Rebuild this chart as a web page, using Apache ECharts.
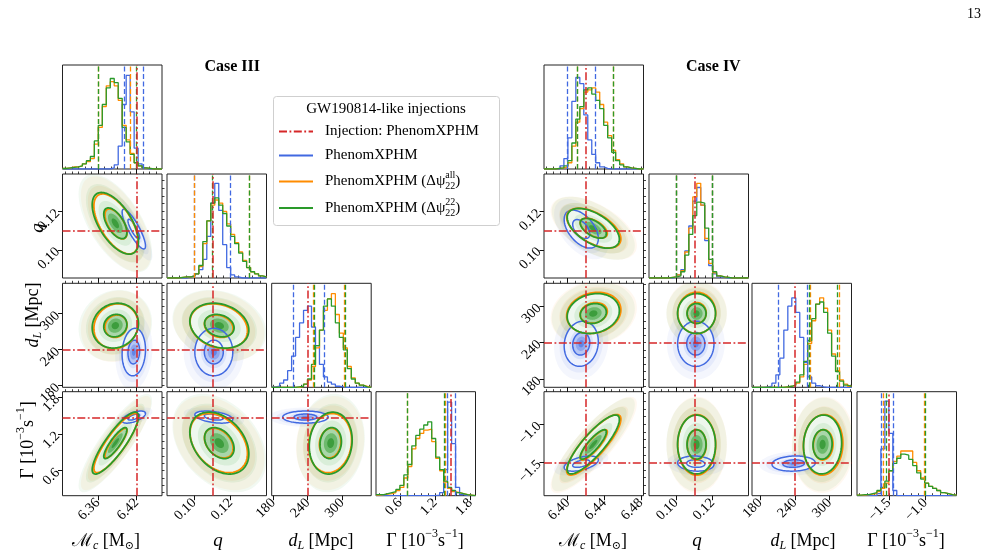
<!DOCTYPE html>
<html>
<head>
<meta charset="utf-8">
<script src="https://cdn.jsdelivr.net/npm/echarts@6/dist/echarts.min.js"></script>
<style>
html, body { margin: 0; padding: 0; background: #fff; }
#chart { width: 996px; height: 558px; }
</style>
</head>
<body>
<div id="chart"></div>
<script>
// parameter order everywhere: [Mc, q, dL, Gamma]
const rangeIII = [[6.3055, 6.459], [0.0853, 0.1395], [177.2, 350.6], [0.19, 1.89]]
const rangeIV = [[6.374, 6.483], [0.0853, 0.1395], [166, 338], [-1.935, -0.575]]
const majorTicksIII = [[6.36, 6.42], [0.10, 0.12], [180, 240, 300], [0.6, 1.2, 1.8]]
const majorTicksIV = [[6.40, 6.44, 6.48], [0.10, 0.12], [180, 240, 300], [-1.5, -1.0]]
const minorStepIII = [0.01, 0.004, 12, 0.12]
const minorStepIV = [0.008, 0.004, 12, 0.1]
const labelDecimals = [2, 2, 0, 1]
const injectionIII = [6.42, 0.1077, 240, 1.465]
const injectionIV = [6.421, 0.1077, 240, -1.5]

// 1D histograms, 25 bins over the axis range, height as fraction of panel
const histIIIMcBlue = [0, 0, 0, 0, 0, 0, 0, 0, 0, 0, 0, 0, 0.01, 0.04, 0.22, 0.62, 0.90, 0.55, 0.20, 0.05, 0.01, 0, 0, 0, 0]
const histIIIMcOrange = [0.005, 0.01, 0.02, 0.02, 0.03, 0.05, 0.07, 0.10, 0.24, 0.40, 0.60, 0.80, 0.84, 0.80, 0.66, 0.42, 0.28, 0.15, 0.06, 0.03, 0.01, 0.005, 0, 0, 0]
const histIIIMcGreen = [0.005, 0.01, 0.015, 0.02, 0.03, 0.05, 0.08, 0.12, 0.27, 0.42, 0.62, 0.78, 0.87, 0.83, 0.68, 0.40, 0.26, 0.14, 0.06, 0.03, 0.01, 0.005, 0, 0, 0]
const histIIIqBlue = [0, 0, 0, 0, 0, 0.01, 0.02, 0.04, 0.08, 0.18, 0.40, 0.72, 0.91, 0.65, 0.32, 0.10, 0.03, 0.01, 0, 0, 0, 0, 0, 0, 0]
const histIIIqOrange = [0, 0, 0, 0.005, 0.01, 0.01, 0.02, 0.04, 0.11, 0.33, 0.55, 0.70, 0.75, 0.72, 0.64, 0.52, 0.42, 0.34, 0.25, 0.17, 0.10, 0.06, 0.04, 0.02, 0.01]
const histIIIqGreen = [0, 0, 0, 0.005, 0.01, 0.01, 0.02, 0.04, 0.12, 0.35, 0.55, 0.72, 0.77, 0.70, 0.62, 0.50, 0.40, 0.33, 0.24, 0.16, 0.10, 0.06, 0.04, 0.02, 0.01]
const histIIIdLBlue = [0.005, 0.01, 0.04, 0.07, 0.16, 0.30, 0.48, 0.62, 0.74, 0.78, 0.58, 0.40, 0.22, 0.10, 0.05, 0.03, 0.01, 0.005, 0, 0, 0, 0, 0, 0, 0]
const histIIIdLOrange = [0, 0, 0, 0, 0, 0, 0, 0.01, 0.03, 0.07, 0.20, 0.38, 0.55, 0.74, 0.85, 0.90, 0.70, 0.52, 0.38, 0.20, 0.09, 0.04, 0.02, 0.01, 0]
const histIIIdLGreen = [0, 0, 0, 0, 0, 0, 0.005, 0.01, 0.03, 0.08, 0.22, 0.40, 0.55, 0.78, 0.85, 0.78, 0.62, 0.48, 0.36, 0.18, 0.08, 0.04, 0.02, 0.005, 0]
const histIIIGamBlue = [0, 0, 0, 0, 0, 0, 0, 0, 0, 0, 0, 0, 0, 0, 0, 0.005, 0.03, 0.25, 0.90, 0.50, 0.08, 0.01, 0, 0, 0]
const histIIIGamOrange = [0.005, 0.01, 0.015, 0.02, 0.03, 0.05, 0.08, 0.17, 0.28, 0.45, 0.55, 0.60, 0.63, 0.64, 0.52, 0.36, 0.24, 0.13, 0.07, 0.04, 0.03, 0.02, 0.01, 0.005, 0]
const histIIIGamGreen = [0.01, 0.01, 0.02, 0.03, 0.04, 0.06, 0.10, 0.20, 0.30, 0.48, 0.58, 0.64, 0.68, 0.71, 0.55, 0.37, 0.25, 0.14, 0.08, 0.05, 0.03, 0.02, 0.01, 0.005, 0]

const histIVMcBlue = [0, 0, 0, 0, 0.03, 0.10, 0.30, 0.65, 0.88, 0.82, 0.52, 0.28, 0.14, 0.06, 0.02, 0.005, 0, 0, 0, 0, 0, 0, 0, 0, 0]
const histIVMcOrange = [0, 0, 0, 0.005, 0.01, 0.02, 0.06, 0.22, 0.45, 0.58, 0.74, 0.76, 0.78, 0.74, 0.62, 0.45, 0.32, 0.18, 0.09, 0.05, 0.02, 0.01, 0.005, 0, 0]
const histIVMcGreen = [0, 0, 0, 0.005, 0.01, 0.03, 0.08, 0.25, 0.48, 0.60, 0.76, 0.78, 0.72, 0.66, 0.58, 0.42, 0.30, 0.16, 0.08, 0.04, 0.02, 0.01, 0.005, 0, 0]
const histIVqBlue = [0, 0, 0, 0, 0, 0, 0.01, 0.03, 0.08, 0.26, 0.50, 0.74, 0.87, 0.70, 0.36, 0.12, 0.04, 0.01, 0.005, 0, 0, 0, 0, 0, 0]
const histIVqOrange = [0, 0, 0, 0, 0, 0.005, 0.01, 0.03, 0.07, 0.25, 0.48, 0.78, 0.91, 0.70, 0.38, 0.14, 0.05, 0.02, 0.01, 0.005, 0, 0, 0, 0, 0]
const histIVqGreen = [0, 0, 0, 0, 0, 0.005, 0.01, 0.02, 0.06, 0.22, 0.42, 0.60, 0.73, 0.72, 0.48, 0.18, 0.06, 0.02, 0.01, 0.005, 0, 0, 0, 0, 0]
const histIVdLBlue = [0, 0, 0, 0.005, 0.01, 0.04, 0.12, 0.28, 0.55, 0.78, 0.86, 0.72, 0.48, 0.24, 0.10, 0.04, 0.015, 0.005, 0, 0, 0, 0, 0, 0, 0]
const histIVdLOrange = [0, 0, 0, 0, 0, 0, 0, 0, 0.005, 0.01, 0.02, 0.04, 0.10, 0.22, 0.42, 0.64, 0.80, 0.86, 0.76, 0.55, 0.32, 0.16, 0.07, 0.03, 0.01]
const histIVdLGreen = [0, 0, 0, 0, 0, 0, 0, 0, 0.005, 0.01, 0.02, 0.05, 0.12, 0.25, 0.45, 0.66, 0.80, 0.82, 0.72, 0.52, 0.30, 0.15, 0.06, 0.02, 0.01]
const histIVGamBlue = [0, 0, 0, 0, 0, 0.02, 0.45, 0.91, 0.60, 0.05, 0, 0, 0, 0, 0, 0, 0, 0, 0, 0, 0, 0, 0, 0, 0]
const histIVGamOrange = [0.005, 0.005, 0.01, 0.015, 0.02, 0.04, 0.07, 0.12, 0.24, 0.33, 0.38, 0.43, 0.43, 0.43, 0.32, 0.24, 0.17, 0.12, 0.09, 0.07, 0.05, 0.03, 0.02, 0.01, 0.005]
const histIVGamGreen = [0.005, 0.01, 0.01, 0.02, 0.03, 0.05, 0.08, 0.14, 0.24, 0.31, 0.36, 0.40, 0.39, 0.35, 0.29, 0.22, 0.16, 0.12, 0.09, 0.07, 0.05, 0.03, 0.02, 0.01, 0.005]

// 90% credible bounds (dashed lines)
const boundsIIIBlue = [[6.402, 6.430], [0.1035, 0.1177], [213.9, 268], [1.40, 1.55]]
const boundsIIIOrange = [[6.362, 6.412], [0.1046, 0.1277], [249.8, 304], [0.73, 1.37]]
const boundsIIIGreen = [[6.360, 6.415], [0.1053, 0.1291], [251.6, 305.2], [0.72, 1.36]]
const boundsIVBlue = [[6.4016, 6.4277], [0.1040, 0.1175], [212, 261], [-1.599, -1.441]]
const boundsIVOrange = [[6.4078, 6.4506], [0.1050, 0.1185], [267, 316], [-1.568, -1.01]]
const boundsIVGreen = [[6.407, 6.4495], [0.1046, 0.1183], [265, 313], [-1.545, -1.001]]

// 2D posteriors: centre, spread, correlations [Mc-q, Mc-dL, Mc-G, q-dL, q-G, dL-G]
const centerIIIBlue = [6.4155, 0.1108, 236, 1.475]
const spreadIIIBlue = [0.0082, 0.0047, 18, 0.045]
const corrIIIBlue = [-0.85, 0.1, 0.6, 0.0, -0.4, 0.0]
const centerIIIOrange = [6.388, 0.1135, 279, 1.05]
const spreadIIIOrange = [0.0155, 0.0071, 17, 0.22]
const corrIIIOrange = [-0.6, 0.1, 0.86, -0.2, -0.35, 0.1]
const centerIIIGreen = [6.387, 0.1138, 280, 1.05]
const spreadIIIGreen = [0.0162, 0.0073, 17, 0.23]
const corrIIIGreen = [-0.6, 0.1, 0.86, -0.2, -0.35, 0.1]
const centerIVBlue = [6.4148, 0.1108, 238, -1.515]
const spreadIVBlue = [0.0085, 0.0045, 17, 0.045]
const corrIVBlue = [-0.5, 0.1, 0.5, 0.0, -0.1, 0.1]
const centerIVOrange = [6.4285, 0.1113, 289, -1.27]
const spreadIVOrange = [0.0135, 0.0047, 15.5, 0.18]
const corrIVOrange = [-0.55, 0.15, 0.85, 0.0, 0.0, 0.05]
const centerIVGreen = [6.428, 0.1112, 288, -1.265]
const spreadIVGreen = [0.013, 0.0047, 15, 0.175]
const corrIVGreen = [-0.55, 0.15, 0.85, 0.0, 0.0, 0.05]

const legendLabels = ['Injection: PhenomXPHM', 'PhenomXPHM', 'PhenomXPHM (Δψ', 'PhenomXPHM (Δψ']

// ---------------------------------------------------------------
const serif = '"Liberation Serif", "DejaVu Serif", serif'
const colors = { blue: '#4169e1', orange: '#ff8c00', green: '#2a9a2a', red: '#d62728' }
const colXIII = [62.5, 167, 271.7, 376]
const colXIV = [544, 649, 752, 857]
const rowY = [65, 174, 283.3, 391.7]
const panelW = 99.5
const panelH = 104
const pairIndex = { '01': 0, '02': 1, '03': 2, '12': 3, '13': 4, '23': 5 }
const kInner = 1.1
const kOuter = 2.2

const cases = [
  {
    colX: colXIII, range: rangeIII, major: majorTicksIII, minor: minorStepIII, inj: injectionIII,
    hist: {
      blue: [histIIIMcBlue, histIIIqBlue, histIIIdLBlue, histIIIGamBlue],
      orange: [histIIIMcOrange, histIIIqOrange, histIIIdLOrange, histIIIGamOrange],
      green: [histIIIMcGreen, histIIIqGreen, histIIIdLGreen, histIIIGamGreen]
    },
    bounds: { blue: boundsIIIBlue, orange: boundsIIIOrange, green: boundsIIIGreen },
    center: { blue: centerIIIBlue, orange: centerIIIOrange, green: centerIIIGreen },
    spread: { blue: spreadIIIBlue, orange: spreadIIIOrange, green: spreadIIIGreen },
    corr: { blue: corrIIIBlue, orange: corrIIIOrange, green: corrIIIGreen }
  },
  {
    colX: colXIV, range: rangeIV, major: majorTicksIV, minor: minorStepIV, inj: injectionIV,
    hist: {
      blue: [histIVMcBlue, histIVqBlue, histIVdLBlue, histIVGamBlue],
      orange: [histIVMcOrange, histIVqOrange, histIVdLOrange, histIVGamOrange],
      green: [histIVMcGreen, histIVqGreen, histIVdLGreen, histIVGamGreen]
    },
    bounds: { blue: boundsIVBlue, orange: boundsIVOrange, green: boundsIVGreen },
    center: { blue: centerIVBlue, orange: centerIVOrange, green: centerIVGreen },
    spread: { blue: spreadIVBlue, orange: spreadIVOrange, green: spreadIVGreen },
    corr: { blue: corrIVBlue, orange: corrIVOrange, green: corrIVGreen }
  }
]

const option = { animation: false, grid: [], xAxis: [], yAxis: [], series: [], graphic: [] }

function minorValues(r, step) {
  const out = []
  for (let v = Math.ceil(r[0] / step - 1e-9) * step; v <= r[1] + 1e-9; v += step) out.push(+v.toFixed(6))
  return out
}

function fmt(p, v) {
  return v.toFixed(labelDecimals[p]).replace('-', '\u2212')
}

function rgba(hex, a) {
  const n = parseInt(hex.slice(1), 16)
  return `rgba(${n >> 16},${(n >> 8) & 255},${n & 255},${a})`
}

function axisPair(list, gi, r, major, minor, p, showTicks, showLabels) {
  const base = {
    gridIndex: gi, type: 'value', min: r[0], max: r[1],
    axisLine: { show: false }, splitLine: { show: false }
  }
  list.push(Object.assign({}, base, {
    axisTick: { show: showTicks, customValues: major, length: 4.5, lineStyle: { color: '#111', width: 1 } },
    axisLabel: {
      show: showLabels, customValues: major, rotate: 45, margin: 5,
      formatter: v => fmt(p, v), fontFamily: serif, fontSize: 14, color: '#000'
    }
  }))
  list.push(Object.assign({}, base, {
    axisTick: { show: showTicks, customValues: minorValues(r, minor), length: 2.5, lineStyle: { color: '#111', width: 0.8 } },
    axisLabel: { show: false }
  }))
}

function ellipseSeries(gi, z, c, s, rho, layers) {
  const root = Math.sqrt(1 - rho * rho)
  return {
    type: 'custom', xAxisIndex: 2 * gi, yAxisIndex: 2 * gi, z, silent: true, clip: true,
    data: layers.map((l, i) => [c[0], c[1], i]),
    renderItem(params, api) {
      const l = layers[params.dataIndex]
      const pts = []
      for (let i = 0; i < 96; i++) {
        const t = i / 96 * 2 * Math.PI
        pts.push(api.coord([
          c[0] + l.k * s[0] * Math.cos(t),
          c[1] + l.k * s[1] * (rho * Math.cos(t) + root * Math.sin(t))
        ]))
      }
      const cs = params.coordSys
      return {
        type: 'polygon',
        shape: { points: pts },
        clipPath: { type: 'rect', shape: { x: cs.x, y: cs.y, width: cs.width, height: cs.height } },
        style: { fill: l.fill || 'none', stroke: l.stroke || 'none', lineWidth: l.width || 0 }
      }
    }
  }
}

function injectionLines(gi, lines) {
  return {
    type: 'line', xAxisIndex: 2 * gi, yAxisIndex: 2 * gi, data: [], z: 6, silent: true,
    markLine: {
      silent: true, symbol: ['none', 'none'], label: { show: false }, animation: false,
      lineStyle: { color: colors.red, width: 1.5, type: [8, 2.5, 1.8, 2.5] },
      emphasis: { disabled: true },
      data: lines
    }
  }
}

const blueFill = [
  { k: kOuter, fill: '#eef2fd' }, { k: 1.5, fill: '#d9e2fa' }, { k: kInner, fill: '#b6c6f4' },
  { k: 0.7, fill: '#8ea6ee' }, { k: 0.35, fill: '#6284e6' }
]
const greenFill = [
  { k: kOuter, fill: '#eef7ee' }, { k: 1.6, fill: '#d9eed9' }, { k: kInner, fill: '#a9d6a9' },
  { k: 0.7, fill: '#6dba6d' }, { k: 0.35, fill: '#3d9d3d' }
]

cases.forEach(cs => {
  for (let row = 0; row < 4; row++) {
    for (let col = 0; col <= row; col++) {
      const gi = option.grid.length
      option.grid.push({
        left: cs.colX[col], top: rowY[row], width: panelW, height: panelH,
        show: true, borderColor: '#222', borderWidth: 1, backgroundColor: '#fff'
      })
      axisPair(option.xAxis, gi, cs.range[col], cs.major[col], cs.minor[col], col, true, row === 3)
      if (row === col) {
        option.yAxis.push({ gridIndex: gi, type: 'value', min: 0, max: 1, show: false })
        option.yAxis.push({ gridIndex: gi, type: 'value', min: 0, max: 1, show: false })
        const r = cs.range[col]
        ;['blue', 'orange', 'green'].forEach(name => {
          const h = cs.hist[name][col]
          const w = (r[1] - r[0]) / h.length
          const data = h.map((v, i) => [r[0] + i * w, v])
          data.push([r[1], h[h.length - 1]])
          option.series.push({
            type: 'line', xAxisIndex: 2 * gi, yAxisIndex: 2 * gi, step: 'end', data,
            symbol: 'none', silent: true, z: 3,
            lineStyle: { color: colors[name], width: 1.3 },
            markLine: {
              silent: true, symbol: ['none', 'none'], label: { show: false }, animation: false,
              lineStyle: { color: colors[name], width: 1.3, type: [5, 2.5] },
              data: cs.bounds[name][col].map(v => ({ xAxis: v }))
            }
          })
        })
        option.series.push(injectionLines(gi, [{ xAxis: cs.inj[col] }]))
      } else {
        axisPair(option.yAxis, gi, cs.range[row], cs.major[row], cs.minor[row], row, col === 0, col === 0)
        const pi = pairIndex['' + col + row]
        const get = name => ({
          c: [cs.center[name][col], cs.center[name][row]],
          s: [cs.spread[name][col], cs.spread[name][row]],
          rho: cs.corr[name][pi]
        })
        ;['blue', 'orange', 'green'].forEach(name => {
          const g = get(name)
          option.series.push(ellipseSeries(gi, 1, g.c, g.s, g.rho, [
            { k: 3.5, fill: rgba(colors[name], 0.06) },
            { k: 2.8, fill: rgba(colors[name], 0.08) }
          ]))
        })
        const gb = get('blue')
        option.series.push(ellipseSeries(gi, 2, gb.c, gb.s, gb.rho, blueFill))
        const gg = get('green')
        option.series.push(ellipseSeries(gi, 2, gg.c, gg.s, gg.rho, greenFill))
        ;['blue', 'orange', 'green'].forEach(name => {
          const g = get(name)
          const lw = name === 'blue' ? 1.5 : 1.8
          option.series.push(ellipseSeries(gi, 4, g.c, g.s, g.rho, [
            { k: kOuter, stroke: colors[name], width: lw },
            { k: kInner, stroke: colors[name], width: lw }
          ]))
        })
        option.series.push(injectionLines(gi, [{ xAxis: cs.inj[col] }, { yAxis: cs.inj[row] }]))
      }
    }
  }
})

// ---------------- text: titles, axis names, legend ----------------
const measureCtx = document.createElement('canvas').getContext('2d')
function textWidth(t, size, italic) {
  measureCtx.font = (italic ? 'italic ' : '') + size + 'px ' + serif
  return measureCtx.measureText(t).width
}

function mathLabel(x, y, parts, opts) {
  opts = opts || {}
  let total = 0
  parts.forEach(p => { if (!p.noAdv) total += textWidth(p.t, p.size, p.italic) })
  let cx = opts.left ? 0 : -total / 2
  const children = parts.map(p => {
    const el = {
      type: 'text', x: cx, y: p.dy || 0, z: opts.z || 0,
      style: {
        text: p.t, fill: '#000', align: 'left', verticalAlign: 'middle',
        font: (p.italic ? 'italic ' : '') + (p.bold ? 'bold ' : '') + p.size + 'px ' + serif
      }
    }
    if (!p.noAdv) cx += textWidth(p.t, p.size, p.italic)
    return el
  })
  return { type: 'group', x, y, rotation: opts.rotation || 0, children, silent: true, z: opts.z || 0 }
}

const nameMc = [{ t: 'ℳ', size: 18 }, { t: 'c', size: 12, italic: true, dy: 5 }, { t: ' [M', size: 18 }, { t: '⊙', size: 11, dy: 5 }, { t: ']', size: 18 }]
const nameQ = [{ t: 'q', size: 19, italic: true }]
const nameDL = [{ t: 'd', size: 18, italic: true }, { t: 'L', size: 12, italic: true, dy: 5 }, { t: ' [Mpc]', size: 18 }]
const nameG = [{ t: 'Γ [10', size: 18 }, { t: '−3', size: 12, dy: -7 }, { t: 's', size: 18 }, { t: '−1', size: 12, dy: -7 }, { t: ']', size: 18 }]
const names = [nameMc, nameQ, nameDL, nameG]

;[[106, 218, 321, 425], [593, 697, 803, 906]].forEach(xs => {
  xs.forEach((x, i) => option.graphic.push(mathLabel(x, 541, names[i])))
})
;[[38, 228], [33, 315], [28, 440]].forEach((p, i) => {
  option.graphic.push(mathLabel(p[0], p[1], names[i + 1], { rotation: Math.PI / 2 }))
})

option.graphic.push(mathLabel(230, 67, [{ t: 'Case III', size: 16, bold: true }]))
option.graphic.push(mathLabel(712, 67, [{ t: 'Case IV', size: 16, bold: true }]))
option.graphic.push(mathLabel(974, 14, [{ t: '13', size: 14 }]))

// legend box
option.graphic.push({
  type: 'rect', shape: { x: 273.5, y: 96.5, width: 226, height: 129, r: 3 },
  style: { fill: '#fff', stroke: '#cfcfcf', lineWidth: 1 }, z: 10, silent: true
})
option.graphic.push(mathLabel(386, 109, [{ t: 'GW190814-like injections', size: 15 }], { z: 11 }))
const legendY = [131.5, 155.5, 181.5, 208]
const legendColors = [colors.red, colors.blue, colors.orange, colors.green]
legendY.forEach((y, i) => {
  option.graphic.push({
    type: 'line', shape: { x1: 279, y1: y, x2: 313, y2: y }, z: 11, silent: true,
    style: { stroke: legendColors[i], lineWidth: 1.8, lineDash: i === 0 ? [8, 2.5, 1.8, 2.5] : null }
  })
  const parts = [{ t: legendLabels[i], size: 15 }]
  if (i === 2) parts.push({ t: 'all', size: 10, dy: -6, noAdv: true }, { t: '22', size: 10, dy: 5 }, { t: ')', size: 15 })
  if (i === 3) parts.push({ t: '22', size: 10, dy: -6, noAdv: true }, { t: '22', size: 10, dy: 5 }, { t: ')', size: 15 })
  option.graphic.push(mathLabel(325, y, parts, { left: true, z: 11 }))
})

const chart = echarts.init(document.getElementById('chart'), null, { renderer: 'canvas' })
chart.setOption(option)
</script>
</body>
</html>
